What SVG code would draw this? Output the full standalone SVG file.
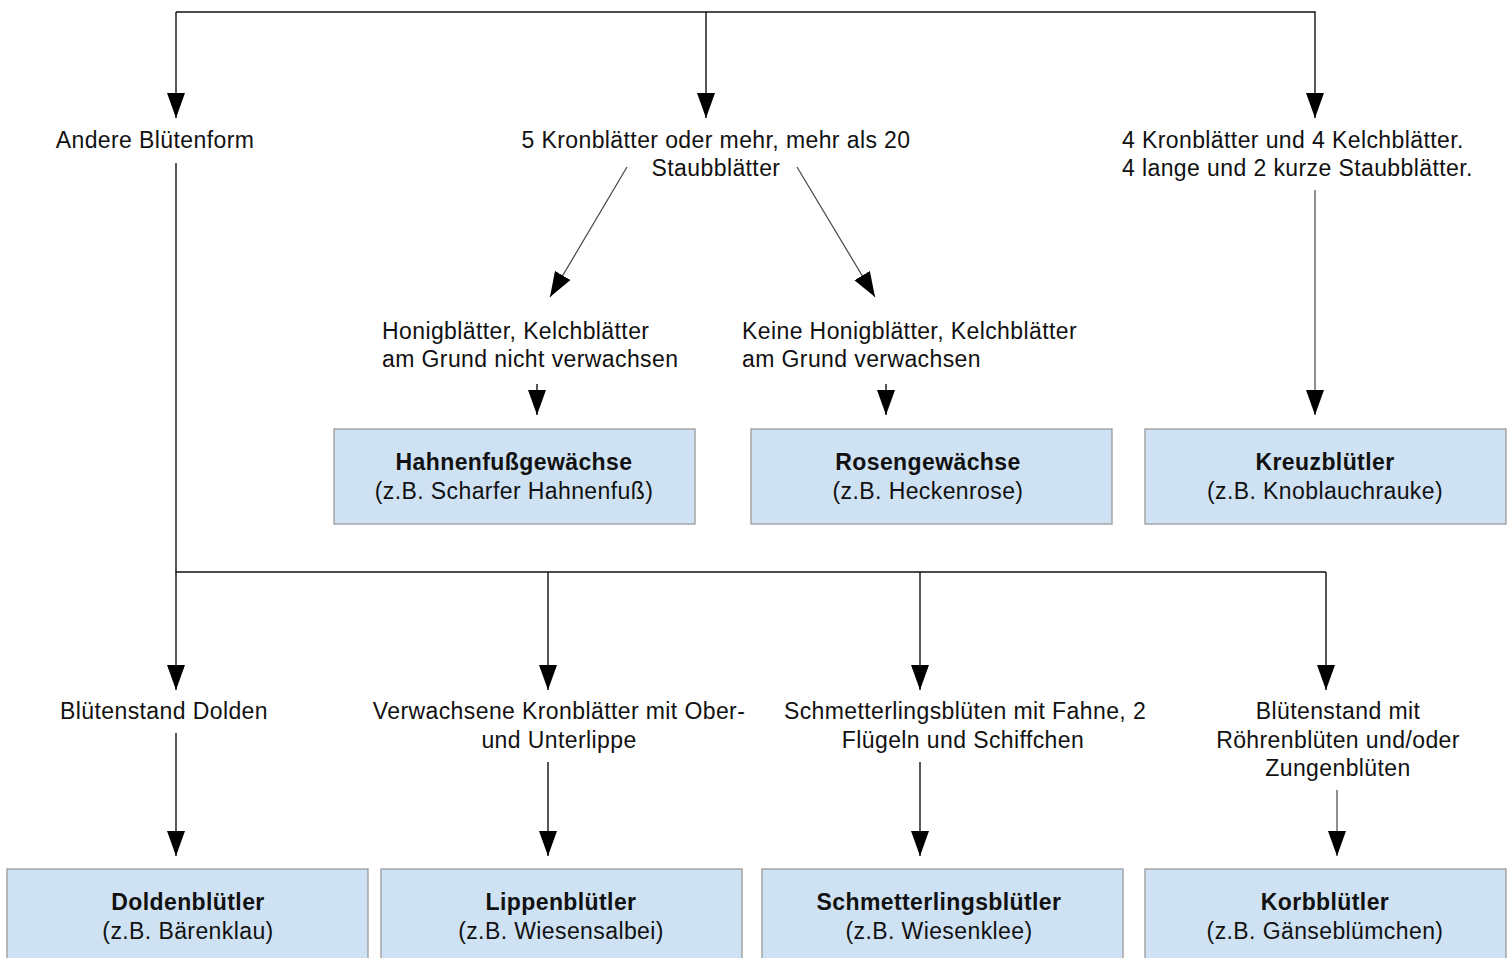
<svg xmlns="http://www.w3.org/2000/svg" width="1509" height="958" viewBox="0 0 1509 958">
<style>
text{font-family:"Liberation Sans",Arial,sans-serif;font-size:23px;fill:#111;letter-spacing:0.4px}
.c{text-anchor:middle}
.b{font-weight:bold}
.box{fill:#cfe2f3;stroke:#9a9a9a;stroke-width:1.3}
.ln{fill:none;stroke:#111;stroke-width:1.4}
.dg{fill:none;stroke:#444;stroke-width:1.2}
</style>
<defs>
<marker id="ah" markerUnits="userSpaceOnUse" markerWidth="26" markerHeight="20" refX="25" refY="9" orient="auto" viewBox="0 0 26 18">
<path d="M0,0 L25,9 L0,18 z" fill="#000"/>
</marker>
</defs>
<rect width="1509" height="958" fill="#fff"/>
<g id="connectors">
<path class="ln" d="M176,12 L1315,12 L1315,118" marker-end="url(#ah)"/>
<path class="ln" d="M176,12 L176,118" marker-end="url(#ah)"/>
<path class="ln" d="M706,12 L706,118" marker-end="url(#ah)"/>
<path class="dg" d="M627,167 L550,297" marker-end="url(#ah)"/>
<path class="dg" d="M797,167 L875,297" marker-end="url(#ah)"/>
<path class="ln" d="M537,384 L537,415" marker-end="url(#ah)"/>
<path class="ln" d="M886,384 L886,415" marker-end="url(#ah)"/>
<path class="dg" d="M1315,190 L1315,415" marker-end="url(#ah)"/>
<path class="ln" d="M176,163 L176,572 L1326,572"/>
<path class="ln" d="M176,572 L176,690" marker-end="url(#ah)"/>
<path class="ln" d="M548,572 L548,690" marker-end="url(#ah)"/>
<path class="ln" d="M920,572 L920,690" marker-end="url(#ah)"/>
<path class="ln" d="M1326,572 L1326,690" marker-end="url(#ah)"/>
<path class="ln" d="M176,733 L176,856" marker-end="url(#ah)"/>
<path class="ln" d="M548,762 L548,856" marker-end="url(#ah)"/>
<path class="ln" d="M920,762 L920,856" marker-end="url(#ah)"/>
<path class="dg" d="M1337,790 L1337,856" marker-end="url(#ah)"/>
</g>
<g id="n-andere"><text class="c" x="155" y="148">Andere Blütenform</text></g>
<g id="n-5kron"><text class="c" x="716" y="148">5 Kronblätter oder mehr, mehr als 20</text><text class="c" x="716" y="176">Staubblätter</text></g>
<g id="n-4kron"><text x="1122" y="148">4 Kronblätter und 4 Kelchblätter.</text><text x="1122" y="176">4 lange und 2 kurze Staubblätter.</text></g>
<g id="n-honig"><text x="382" y="339">Honigblätter, Kelchblätter</text><text x="382" y="367">am Grund nicht verwachsen</text></g>
<g id="n-keine"><text x="742" y="339">Keine Honigblätter, Kelchblätter</text><text x="742" y="367">am Grund verwachsen</text></g>
<g id="n-hahnen"><rect class="box" x="334" y="429" width="361" height="95"/><text class="c b" x="514" y="470">Hahnenfußgewächse</text><text class="c" x="514" y="499">(z.B. Scharfer Hahnenfuß)</text></g>
<g id="n-rosen"><rect class="box" x="751" y="429" width="361" height="95"/><text class="c b" x="928" y="470">Rosengewächse</text><text class="c" x="928" y="499">(z.B. Heckenrose)</text></g>
<g id="n-kreuz"><rect class="box" x="1145" y="429" width="361" height="95"/><text class="c b" x="1325" y="470">Kreuzblütler</text><text class="c" x="1325" y="499">(z.B. Knoblauchrauke)</text></g>
<g id="n-dolden-q"><text class="c" x="164" y="719">Blütenstand Dolden</text></g>
<g id="n-verw"><text class="c" x="559" y="719">Verwachsene Kronblätter mit Ober-</text><text class="c" x="559" y="748">und Unterlippe</text></g>
<g id="n-schm-q"><text class="c" x="965" y="719">Schmetterlingsblüten mit Fahne, 2</text><text class="c" x="963" y="748">Flügeln und Schiffchen</text></g>
<g id="n-korb-q"><text class="c" x="1338" y="719">Blütenstand mit</text><text class="c" x="1338" y="748">Röhrenblüten und/oder</text><text class="c" x="1338" y="776">Zungenblüten</text></g>
<g id="n-dolden"><rect class="box" x="7" y="869" width="361" height="100"/><text class="c b" x="188" y="910">Doldenblütler</text><text class="c" x="188" y="939">(z.B. Bärenklau)</text></g>
<g id="n-lippen"><rect class="box" x="381" y="869" width="361" height="100"/><text class="c b" x="561" y="910">Lippenblütler</text><text class="c" x="561" y="939">(z.B. Wiesensalbei)</text></g>
<g id="n-schm"><rect class="box" x="762" y="869" width="361" height="100"/><text class="c b" x="939" y="910">Schmetterlingsblütler</text><text class="c" x="939" y="939">(z.B. Wiesenklee)</text></g>
<g id="n-korb"><rect class="box" x="1145" y="869" width="361" height="100"/><text class="c b" x="1325" y="910">Korbblütler</text><text class="c" x="1325" y="939">(z.B. Gänseblümchen)</text></g>
</svg>
